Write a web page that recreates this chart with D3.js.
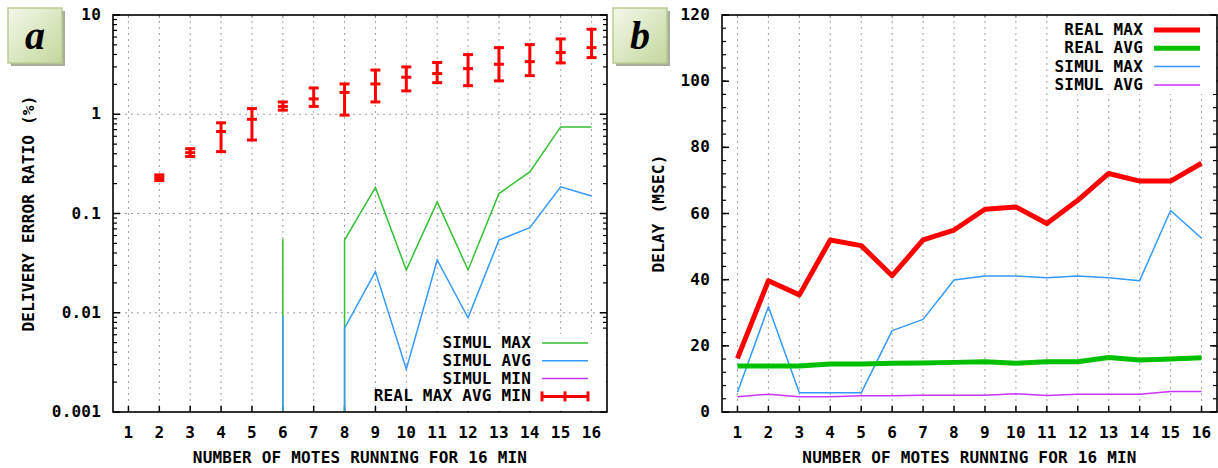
<!DOCTYPE html>
<html>
<head>
<meta charset="utf-8">
<script src="https://cdn.jsdelivr.net/npm/d3@7"></script>
<style>
	body { margin: 0; background: #fff; }
	text { font-family: "DejaVu Sans Mono", monospace; font-weight: bold; fill: #000; letter-spacing: 0.2px; }
</style>
</head>
<body>
<div id="chart"></div>
<script>
// categories: number of motes
var motes = [1, 2, 3, 4, 5, 6, 7, 8, 9, 10, 11, 12, 13, 14, 15, 16];

// panel a: delivery error ratio (%), 0 = no value on the log axis
var realAvgA = [null, 0.23, 0.41, 0.67, 0.89, 1.20, 1.43, 1.66, 2.02, 2.36, 2.57, 2.88, 3.19, 3.39, 4.18, 4.69];
var realMinA = [null, 0.215, 0.375, 0.42, 0.55, 1.10, 1.20, 0.98, 1.33, 1.72, 2.08, 1.94, 2.17, 2.45, 3.29, 3.72];
var realMaxA = [null, 0.245, 0.45, 0.82, 1.14, 1.33, 1.84, 2.02, 2.79, 3.00, 3.32, 3.99, 4.69, 5.03, 5.74, 7.18];
var simulMaxA = [0, 0, 0, 0, 0, 0.055, 0, 0.054, 0.183, 0.027, 0.131, 0.027, 0.159, 0.262, 0.746, 0.746];
var simulAvgA = [0, 0, 0, 0, 0, 0.0093, 0, 0.0070, 0.026, 0.0027, 0.034, 0.0089, 0.054, 0.072, 0.186, 0.150];
var simulMinA = [0, 0, 0, 0, 0, 0, 0, 0, 0, 0, 0, 0, 0, 0, 0, 0];
var yTicksA = [0.001, 0.01, 0.1, 1, 10];
var yTickLabelsA = ["0.001", "0.01", "0.1", "1", "10"];

// panel b: delay (msec)
var realMaxB = [16.2, 39.7, 35.4, 52, 50.3, 41.2, 52, 55, 61.3, 62, 57, 64, 72.1, 69.8, 69.8, 75.2];
var realAvgB = [13.9, 13.9, 13.9, 14.5, 14.5, 14.7, 14.8, 15.0, 15.2, 14.7, 15.2, 15.2, 16.5, 15.7, 16.0, 16.4];
var simulMaxB = [6.0, 31.8, 5.8, 5.8, 5.8, 24.6, 28.0, 39.9, 41.1, 41.1, 40.6, 41.1, 40.6, 39.7, 60.9, 52.5];
var simulAvgB = [4.6, 5.4, 4.6, 4.6, 4.9, 4.9, 5.1, 5.1, 5.1, 5.5, 5.0, 5.4, 5.4, 5.4, 6.2, 6.2];
var yTicksB = [0, 20, 40, 60, 80, 100, 120];

var xLabel = "NUMBER OF MOTES RUNNING FOR 16 MIN";
var fontSize = "16px";

var svg = d3.select("#chart").append("svg")
		.attr("width", 1218)
		.attr("height", 468);

var defs = svg.append("defs");
var grad = defs.append("linearGradient").attr("id", "boxgrad")
		.attr("x1", "0").attr("y1", "0").attr("x2", "1").attr("y2", "1");
grad.append("stop").attr("offset", "0%").attr("stop-color", "#f4f8ea");
grad.append("stop").attr("offset", "100%").attr("stop-color", "#c3d79c");

// Letter box in the corner of each panel
function letterBox(x, y, letter) {
	svg.append("rect").attr("x", x + 3).attr("y", y + 3).attr("width", 54).attr("height", 55)
			.style("fill", "#a9ae9c");
	svg.append("rect").attr("x", x).attr("y", y).attr("width", 54).attr("height", 55)
			.style("fill", "url(#boxgrad)")
			.style("stroke", "#b9cd92").style("stroke-width", 1.5);
	svg.append("text").attr("x", x + 27).attr("y", y + 41)
			.attr("text-anchor", "middle")
			.style("font-family", "'Liberation Serif', serif")
			.style("font-style", "italic")
			.style("font-weight", "bold")
			.style("font-size", "40px")
			.text(letter);
}

function makeX(left, right) {
	return d3.scaleLinear().domain([0.5, 16.5]).range([left, right]);
}

function frame(g, x, y, w, h) {
	g.append("rect").attr("x", x).attr("y", y).attr("width", w).attr("height", h)
			.style("fill", "none").style("stroke", "#000").style("stroke-width", 1.6);
}

function xAxisStuff(g, x, top, bottom) {
	// vertical grid
	g.selectAll(".vgrid").data(motes).enter().append("line")
			.attr("x1", function(d) { return x(d); }).attr("x2", function(d) { return x(d); })
			.attr("y1", top).attr("y2", bottom)
			.style("stroke", "#a0a0a0").style("stroke-width", 1).style("stroke-dasharray", "2,4");
	// ticks bottom and top
	g.selectAll(".xtick").data(motes).enter().append("line")
			.attr("x1", function(d) { return x(d); }).attr("x2", function(d) { return x(d); })
			.attr("y1", bottom).attr("y2", bottom - 6)
			.style("stroke", "#000").style("stroke-width", 1.5);
	g.selectAll(".xtickt").data(motes).enter().append("line")
			.attr("x1", function(d) { return x(d); }).attr("x2", function(d) { return x(d); })
			.attr("y1", top).attr("y2", top + 3)
			.style("stroke", "#888").style("stroke-width", 1);
	g.selectAll(".xlab").data(motes).enter().append("text")
			.attr("x", function(d) { return x(d); }).attr("y", bottom + 26)
			.attr("text-anchor", "middle")
			.style("font-size", fontSize)
			.text(function(d) { return d; });
	g.append("text")
			.attr("x", (x.range()[0] + x.range()[1]) / 2).attr("y", bottom + 51)
			.attr("text-anchor", "middle")
			.style("font-size", fontSize)
			.text(xLabel);
}

// ---------- panel a ----------
(function() {
	var left = 113, right = 607, top = 15, bottom = 412;
	var x = makeX(left, right);
	var y = d3.scaleLog().domain([0.001, 10]).range([bottom, top]);
	var g = svg.append("g");

	xAxisStuff(g, x, top, bottom);

	// horizontal grid on major ticks
	g.selectAll(".hgrid").data([0.01, 0.1, 1]).enter().append("line")
			.attr("x1", left).attr("x2", right)
			.attr("y1", function(d) { return y(d); }).attr("y2", function(d) { return y(d); })
			.style("stroke", "#a0a0a0").style("stroke-width", 1).style("stroke-dasharray", "2,4");

	// log ticks, both sides
	var minor = [];
	[0.001, 0.01, 0.1, 1].forEach(function(dec) {
		for (var k = 2; k <= 9; k++) minor.push(dec * k);
	});
	[[left, 1], [right, -1]].forEach(function(side) {
		g.selectAll(null).data(minor).enter().append("line")
				.attr("x1", side[0]).attr("x2", side[0] + side[1] * 4)
				.attr("y1", function(d) { return y(d); }).attr("y2", function(d) { return y(d); })
				.style("stroke", "#000").style("stroke-width", 1.2);
		g.selectAll(null).data(yTicksA).enter().append("line")
				.attr("x1", side[0]).attr("x2", side[0] + side[1] * 7)
				.attr("y1", function(d) { return y(d); }).attr("y2", function(d) { return y(d); })
				.style("stroke", "#000").style("stroke-width", 1.5);
	});
	g.selectAll(".ylab").data(yTicksA).enter().append("text")
			.attr("x", left - 12).attr("y", function(d) { return y(d) + 5; })
			.attr("text-anchor", "end")
			.style("font-size", fontSize)
			.text(function(d, i) { return yTickLabelsA[i]; });
	g.append("text")
			.attr("transform", "translate(34," + ((top + bottom) / 2) + ") rotate(-90)")
			.attr("text-anchor", "middle")
			.style("font-size", fontSize)
			.text("DELIVERY ERROR RATIO (%)");

	// simul lines: zero drops straight to the bottom of the axis
	var floor = 1e-3;
	function logPoints(vals) {
		var pts = [];
		vals.forEach(function(v, i) {
			if (v > 0) {
				if (i > 0 && vals[i - 1] === 0) pts.push([motes[i], floor]);
				pts.push([motes[i], v]);
				if (i < vals.length - 1 && vals[i + 1] === 0) pts.push([motes[i], floor]);
			} else {
				pts.push(null);
			}
		});
		return pts;
	}
	var line = d3.line()
			.defined(function(d) { return d; })
			.x(function(d) { return x(d[0]); })
			.y(function(d) { return y(d[1]); });

	var series = [
		{name: "SIMUL MAX", vals: simulMaxA, color: "#33c033"},
		{name: "SIMUL AVG", vals: simulAvgA, color: "#3399ff"},
		{name: "SIMUL MIN", vals: simulMinA, color: "#cc33ff"}
	];
	series.forEach(function(s) {
		g.append("path").attr("d", line(logPoints(s.vals)))
				.style("fill", "none").style("stroke", s.color).style("stroke-width", 1.5);
	});

	// real error bars
	var eb = g.append("g").style("stroke", "#ff0000").style("stroke-width", 3);
	motes.forEach(function(m, i) {
		if (realAvgA[i] == null) return;
		var cx = x(m);
		eb.append("line").attr("x1", cx).attr("x2", cx)
				.attr("y1", y(realMinA[i])).attr("y2", y(realMaxA[i]));
		[realMinA[i], realAvgA[i], realMaxA[i]].forEach(function(v) {
			eb.append("line").attr("x1", cx - 5).attr("x2", cx + 5)
					.attr("y1", y(v)).attr("y2", y(v));
		});
	});

	// legend
	var lg = g.append("g");
	lg.append("rect").attr("x", 436).attr("y", 334).attr("width", right - 437).attr("height", bottom - 335)
			.style("fill", "#fff");
	var rows = series.concat([{name: "REAL MAX AVG MIN", color: "#ff0000", bar: true}]);
	rows.forEach(function(r, i) {
		var ly = 343 + i * 17.8;
		lg.append("text").attr("x", 531).attr("y", ly + 5)
				.attr("text-anchor", "end").style("font-size", fontSize).text(r.name);
		if (r.bar) {
			var bl = lg.append("g").style("stroke", r.color).style("stroke-width", 3);
			bl.append("line").attr("x1", 542).attr("x2", 588).attr("y1", ly).attr("y2", ly);
			[542, 565, 588].forEach(function(px) {
				bl.append("line").attr("x1", px).attr("x2", px).attr("y1", ly - 5).attr("y2", ly + 5);
			});
		} else {
			lg.append("line").attr("x1", 542).attr("x2", 588).attr("y1", ly).attr("y2", ly)
					.style("stroke", r.color).style("stroke-width", 1.5);
		}
	});

	frame(g, left, top, right - left, bottom - top);
})();

// ---------- panel b ----------
(function() {
	var left = 722, right = 1217, top = 15, bottom = 412;
	var x = makeX(left, right);
	var y = d3.scaleLinear().domain([0, 120]).range([bottom, top]);
	var g = svg.append("g");

	xAxisStuff(g, x, top, bottom);

	var minor = d3.range(0, 121, 4);
	[[left, 1], [right, -1]].forEach(function(side) {
		g.selectAll(null).data(minor).enter().append("line")
				.attr("x1", side[0]).attr("x2", side[0] + side[1] * 4)
				.attr("y1", function(d) { return y(d); }).attr("y2", function(d) { return y(d); })
				.style("stroke", "#000").style("stroke-width", 1.2);
		g.selectAll(null).data(yTicksB).enter().append("line")
				.attr("x1", side[0]).attr("x2", side[0] + side[1] * 7)
				.attr("y1", function(d) { return y(d); }).attr("y2", function(d) { return y(d); })
				.style("stroke", "#000").style("stroke-width", 1.5);
	});
	g.selectAll(".ylab").data(yTicksB).enter().append("text")
			.attr("x", left - 12).attr("y", function(d) { return y(d) + 5; })
			.attr("text-anchor", "end")
			.style("font-size", fontSize)
			.text(function(d) { return d; });
	g.append("text")
			.attr("transform", "translate(664," + ((top + bottom) / 2) + ") rotate(-90)")
			.attr("text-anchor", "middle")
			.style("font-size", fontSize)
			.text("DELAY (MSEC)");

	var line = d3.line()
			.x(function(d, i) { return x(motes[i]); })
			.y(function(d) { return y(d); });

	var series = [
		{name: "REAL MAX", vals: realMaxB, color: "#ff0000", w: 5},
		{name: "REAL AVG", vals: realAvgB, color: "#00c000", w: 5},
		{name: "SIMUL MAX", vals: simulMaxB, color: "#3399ff", w: 1.5},
		{name: "SIMUL AVG", vals: simulAvgB, color: "#cc33ff", w: 1.5}
	];
	series.slice().reverse().forEach(function(s) {
		g.append("path").attr("d", line(s.vals))
				.style("fill", "none").style("stroke", s.color).style("stroke-width", s.w)
				.style("stroke-linejoin", "round");
	});

	// legend
	var lg = g.append("g");
	lg.append("rect").attr("x", 1050).attr("y", top + 1).attr("width", right - 1051).attr("height", 78)
			.style("fill", "#fff");
	series.forEach(function(s, i) {
		var ly = 30 + i * 18.3;
		lg.append("text").attr("x", 1143).attr("y", ly + 5)
				.attr("text-anchor", "end").style("font-size", fontSize).text(s.name);
		lg.append("line").attr("x1", 1154).attr("x2", 1200).attr("y1", ly).attr("y2", ly)
				.style("stroke", s.color).style("stroke-width", s.w);
	});

	frame(g, left, top, right - left, bottom - top);
})();

letterBox(8, 8, "a");
letterBox(613, 8, "b");
</script>
</body>
</html>
